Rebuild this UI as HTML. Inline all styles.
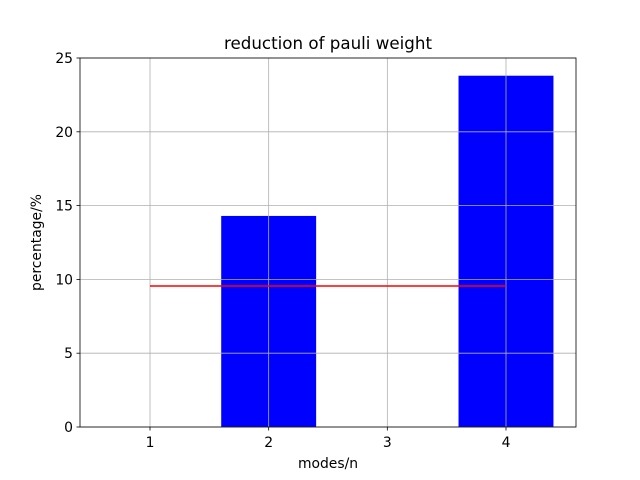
<!DOCTYPE html>
<html><head><meta charset="utf-8"><style>body{margin:0;background:#fff}svg{display:block}text{font-family:"DejaVu Sans","Liberation Sans",sans-serif}</style></head>
<body>
<svg id="chart" width="640" height="480" xmlns="http://www.w3.org/2000/svg">
<rect width="640" height="480" fill="#fff"/>
<g id="bars"></g><g id="grid"></g><g id="lines"></g><g id="axes"></g>
</svg>
<script>
const categories = [1, 2, 3, 4];
const barValues = [0, 14.3, 0, 23.8];
const avgValue = 9.55;
const yTicks = [0, 5, 10, 15, 20, 25];
const xTicks = [1, 2, 3, 4];
const L=80,R=576,T=58,B=427,xmin=0.41,xmax=4.59,ymin=0,ymax=25;
const xs=v=>L+(v-xmin)/(xmax-xmin)*(R-L);
const ys=v=>B-(v-ymin)/(ymax-ymin)*(B-T);
const NS='http://www.w3.org/2000/svg';
function mk(tag,parent,attrs){const e=document.createElementNS(NS,tag);for(const k in attrs)e.setAttribute(k,attrs[k]);document.getElementById(parent).appendChild(e);return e;}
categories.forEach((c,i)=>{
  const r=mk('rect','bars',{x:xs(c-0.4),y:ys(barValues[i]),width:xs(c+0.4)-xs(c-0.4),height:ys(0)-ys(barValues[i]),fill:'#0000ff'});
  
  
});
xTicks.forEach(t=>{
  const g=mk('line','grid',{x1:xs(t),x2:xs(t),y1:T,y2:B,stroke:'#b0b0b0','stroke-width':0.8});
  
  
  const k=mk('line','axes',{x1:xs(t),x2:xs(t),y1:B,y2:B+3.5,stroke:'#000','stroke-width':0.8});
  
  
  const l=mk('text','axes',{x:xs(t),y:B+20,'text-anchor':'middle','font-size':13.9});
  l.textContent=t;
  
  
});
yTicks.forEach(t=>{
  const g=mk('line','grid',{x1:L,x2:R,y1:ys(t),y2:ys(t),stroke:'#b0b0b0','stroke-width':0.8});
  
  
  const k=mk('line','axes',{x1:L-3.5,x2:L,y1:ys(t),y2:ys(t),stroke:'#000','stroke-width':0.8});
  
  
  const l=mk('text','axes',{x:L-7,y:ys(t)+5,'text-anchor':'end','font-size':13.9});
  l.textContent=t;
  
  
});
const ln=mk('line','lines',{x1:xs(categories[0]),x2:xs(categories[categories.length-1]),y1:ys(avgValue),y2:ys(avgValue),stroke:'#ff0000','stroke-width':1.5});


const fr=mk('rect','axes',{x:L,y:T,width:R-L,height:B-T,fill:'none',stroke:'#000','stroke-width':0.8});


const ti=mk('text','axes',{x:(L+R)/2,y:T-9,'text-anchor':'middle','font-size':16.7});
ti.textContent='reduction of pauli weight';


const xl=mk('text','axes',{x:(L+R)/2,y:B+41,'text-anchor':'middle','font-size':13.9});
xl.textContent='modes/n';


const yl=mk('text','axes',{x:0,y:0,'text-anchor':'middle','font-size':13.9,transform:`translate(41,${(T+B)/2}) rotate(-90)`});
yl.textContent='percentage/%';


</script>
</body></html>
